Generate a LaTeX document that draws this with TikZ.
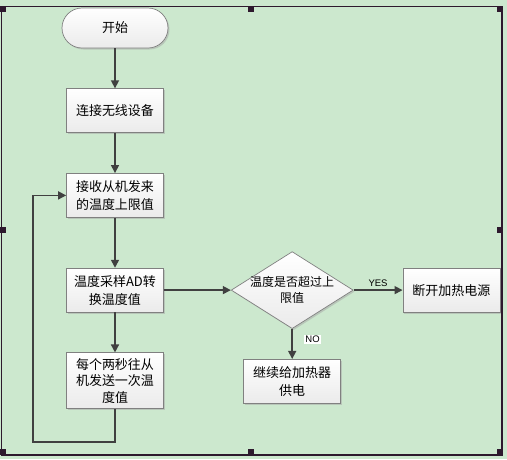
\documentclass[tikz,border=0pt]{standalone}
\usepackage{fontspec}
\newfontfamily\cjk{Noto Sans CJK SC}
\newfontfamily\lab{Liberation Sans}
\usetikzlibrary{positioning,shapes.geometric,shadows,arrows.meta}

\definecolor{bggreen}{RGB}{204,232,206}
\definecolor{framecol}{RGB}{45,25,45}
\definecolor{linecol}{RGB}{64,64,64}
\definecolor{edgecol}{RGB}{128,128,128}

\begin{document}
\begin{tikzpicture}[x=1pt, y=-1pt, node distance={40pt},
        box/.style = {draw=edgecol, line width=0.7pt, top color=white, bottom color=gray!16,
            drop shadow={shadow xshift=1.5pt, shadow yshift=-1.5pt, fill=gray!70, opacity=0.5},
            minimum width=97pt, minimum height=44pt, inner sep=2pt, align=center,
            font=\cjk\fontsize{13}{18}\selectfont},
        term/.style = {box, minimum width=106pt, minimum height=40pt, rounded corners=20pt},
        decision/.style = {box, diamond, minimum width=122pt, minimum height=77pt, inner sep=0pt},
        flow/.style = {draw=linecol, line width=1.5pt, -{Triangle[length=8pt,width=8pt]}},
        tag/.style = {font=\lab\fontsize{9.5}{10}\selectfont, inner sep=1.5pt}]
        % background and frame
        \fill[bggreen] (0,0) rectangle (507,459);
        \draw[framecol, line width=1.5pt] (1.5,6.5) rectangle (502,455);
        \foreach \hx/\hy in {0/6, 248/6, 497/6, 0/227, 497/227, 0/449, 248/449, 497/449}
            \fill[framecol] (\hx,\hy) rectangle ++(6,6);

        \node[term] (start) at (115,28) {开始};
        \node[box] (connect) [below=of start] {连接无线设备};
        \node[box] (receive) [below=40pt of connect] {接收从机发来\\的温度上限值};
        \node[box] (sample) [below=50pt of receive] {温度采样AD转\\换温度值};
        \node[box, minimum height=56pt, font=\cjk\fontsize{13}{16.5}\selectfont] (send) [below=40pt of sample] {每个两秒往从\\机发送一次温\\度值};
        \node[decision, label={[align=center, font=\cjk\fontsize{12}{16}\selectfont]center:温度是否超过上\\限值}] (check) [right=67pt of sample] {};
        \node[box] (cutoff) [right=49pt of check] {断开加热电源};
        \node[box] (heat) [below=30pt of check] {继续给加热器\\供电};
        \coordinate (loop) at (33,442);

        \draw[flow] (start) -- (connect);
        \draw[flow] (connect) -- (receive);
        \draw[flow] (receive) -- (sample);
        \draw[flow] (sample) -- (send);
        \draw[flow] (send.south) |- (loop) |- (receive.west);
        \draw[flow] (sample) -- (check);
        \draw[flow] (check) -- node[tag, above=1pt] {YES} (cutoff);
        \draw[flow] (check) -- node[tag, pos=0.35, right=11pt, fill=white] {NO} (heat);
    \end{tikzpicture}
\end{document}
